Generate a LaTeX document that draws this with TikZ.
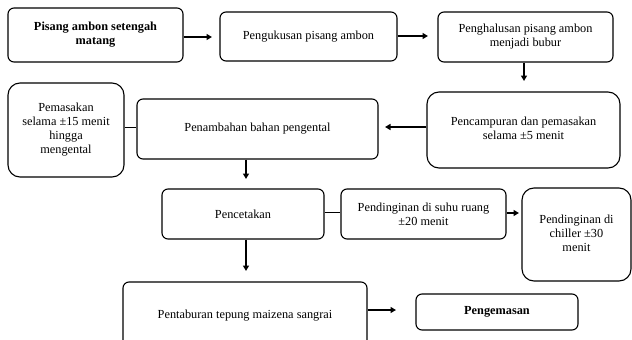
\documentclass[tikz,border=0pt]{standalone}
\usepackage{fontspec}
\setmainfont{Liberation Serif}
\usetikzlibrary{arrows.meta}
\begin{document}
\begin{tikzpicture}[x=1pt,y=-1pt,
  box/.style={draw,line width=1.1pt,rounded corners=6pt,align=center,inner sep=0pt,
    font=\fontsize{12.3}{14}\selectfont},
  bigr/.style={rounded corners=12pt},
  arr/.style={line width=1.4pt,-{Triangle[length=5.5pt,width=6pt]}},
  ln/.style={line width=0.8pt}]
\useasboundingbox (0,0) rectangle (632,340);
\clip (0,0) rectangle (632,340);
\node[box,font=\fontsize{12.3}{14}\selectfont\bfseries,minimum width=175pt,minimum height=54pt] (b1) at (95.5,35) {Pisang ambon setengah\\matang};
\node[box,minimum width=177pt,minimum height=49pt] (b2) at (308.5,36.5) {Pengukusan pisang ambon};
\node[box,minimum width=175pt,minimum height=50pt] (b3) at (525.5,37) {Penghalusan pisang ambon\\menjadi bubur};
\node[box,bigr,minimum width=193pt,minimum height=76pt] (b4) at (523.5,130) {\raisebox{-3pt}{\begin{tabular}{@{}c@{}}Pencampuran dan pemasakan\\selama ±5 menit\end{tabular}}};
\node[box,minimum width=241pt,minimum height=60pt] (b5) at (257.5,129) {\raisebox{-2pt}{Penambahan bahan pengental}};
\node[box,bigr,minimum width=116pt,minimum height=94pt] (b6) at (66,130) {Pemasakan\\selama ±15 menit\\hingga\\mengental};
\node[box,minimum width=162pt,minimum height=50pt] (b7) at (243,214) {Pencetakan};
\node[box,minimum width=165pt,minimum height=50pt] (b8) at (423.5,214) {Pendinginan di suhu ruang\\±20 menit};
\node[box,bigr,minimum width=109pt,minimum height=93pt] (b9) at (576.5,234.5) {\raisebox{5pt}{\begin{tabular}{@{}c@{}}Pendinginan di\\chiller ±30\\menit\end{tabular}}};
\node[box,minimum width=244pt,minimum height=68pt] (b10) at (245,316) {Pentaburan tepung maizena sangrai};
\node[box,font=\fontsize{12.3}{14}\selectfont\bfseries,minimum width=162pt,minimum height=36pt] (b11) at (497,312) {Pengemasan};
\coordinate (e1) at (212,37);
\coordinate (e2) at (428,36);
\coordinate (e3) at (524,81);
\coordinate (e4) at (385,127);
\coordinate (e5) at (246,179);
\coordinate (e6) at (519,213);
\coordinate (e7) at (246,271);
\coordinate (e8) at (396,310);
\coordinate (l1) at (137,127);
\coordinate (l2) at (341,212);
\draw[arr] (b1.east|-e1) -- (e1);
\draw[arr] (b2.east|-e2) -- (e2);
\draw[arr] (b3.south-|e3) -- (e3);
\draw[arr] (b4.west|-e4) -- (e4);
\draw[arr] (b5.south-|e5) -- (e5);
\draw[arr] (b8.east|-e6) -- (e6);
\draw[arr] (b7.south-|e7) -- (e7);
\draw[arr] (b10.east|-e8) -- (e8);
\draw[ln] (b6.east|-l1) -- (b5.west|-l1);
\draw[ln] (b7.east|-l2) -- (b8.west|-l2);
\end{tikzpicture}
\end{document}
